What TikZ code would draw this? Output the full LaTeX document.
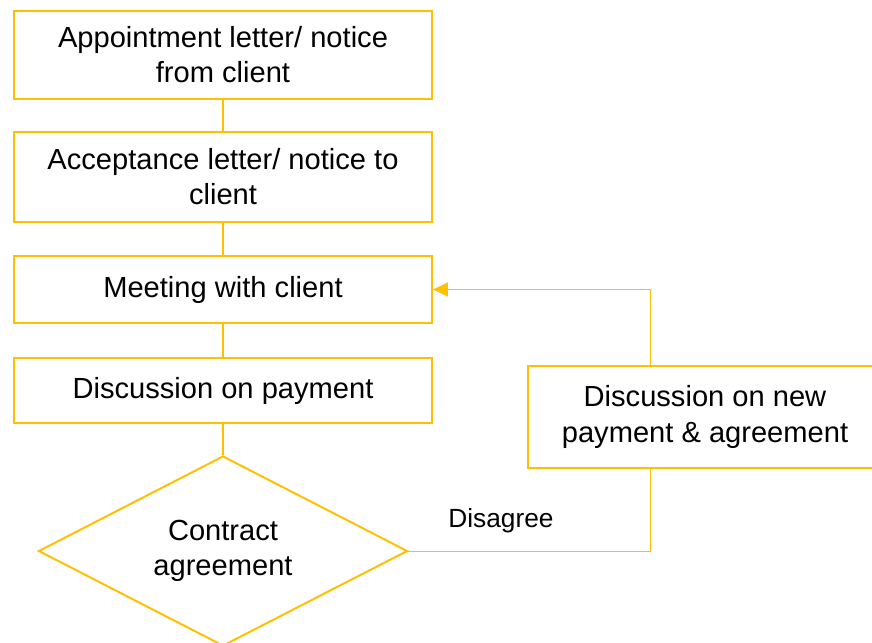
\documentclass[tikz,border=0pt]{standalone}
\usepackage{fontspec}
\setmainfont{Liberation Sans}
\usetikzlibrary{shapes.geometric,arrows.meta}
\definecolor{gold}{HTML}{FFC000}

\begin{document}
\begin{tikzpicture}[
  every node/.style={font=\fontsize{20.7pt}{25pt}\selectfont},
  stage/.style={draw=gold, line width=1.4pt, align=center, inner sep=0pt, minimum width=10.45cm},
  choice/.style={draw=gold, line width=1.4pt, diamond, aspect=1.94, align=center, inner sep=0pt, minimum width=9.225cm, minimum height=4.75cm},
  link/.style={draw=gold, line width=1.4pt},
  back/.style={draw=gold, line width=0.7pt}]
\useasboundingbox (0,0) rectangle (21.8,-16.05);

\node[stage, minimum height=2.2cm] (appoint) at (5.575,-1.375)
{Appointment letter/ notice\\from client};

\node[stage, minimum height=2.25cm] (accept) at (5.575,-4.425)
{Acceptance letter/ notice to\\client};

\node[stage, minimum height=1.675cm] (meet) at (5.575,-7.2375)
{Meeting with client};

\node[stage, minimum height=1.625cm] (pay) at (5.575,-9.7625)
{Discussion on payment};

\node[choice] (contract) at (5.575,-13.775)
{Contract\\agreement};

\node[stage, minimum width=8.85cm, minimum height=2.55cm] (newdeal) at (17.625,-10.425)
{Discussion on new\\payment \& agreement};

\node[font=\fontsize{18.7pt}{22pt}\selectfont] (disagree) at (12.525,-13.025) {Disagree};

\coordinate (loop) at (16.25,0);

\draw[link] (appoint) -- (accept);
\draw[link] (accept) -- (meet);
\draw[link] (meet) -- (pay);
\draw[link] (pay) -- (contract);
\draw[back] (contract.east) -| (loop |- newdeal.south);
\draw[back, -{Triangle[length=0.375cm, width=0.35cm]}] (loop |- newdeal.north) |- (meet.east);
\end{tikzpicture}
\end{document}
